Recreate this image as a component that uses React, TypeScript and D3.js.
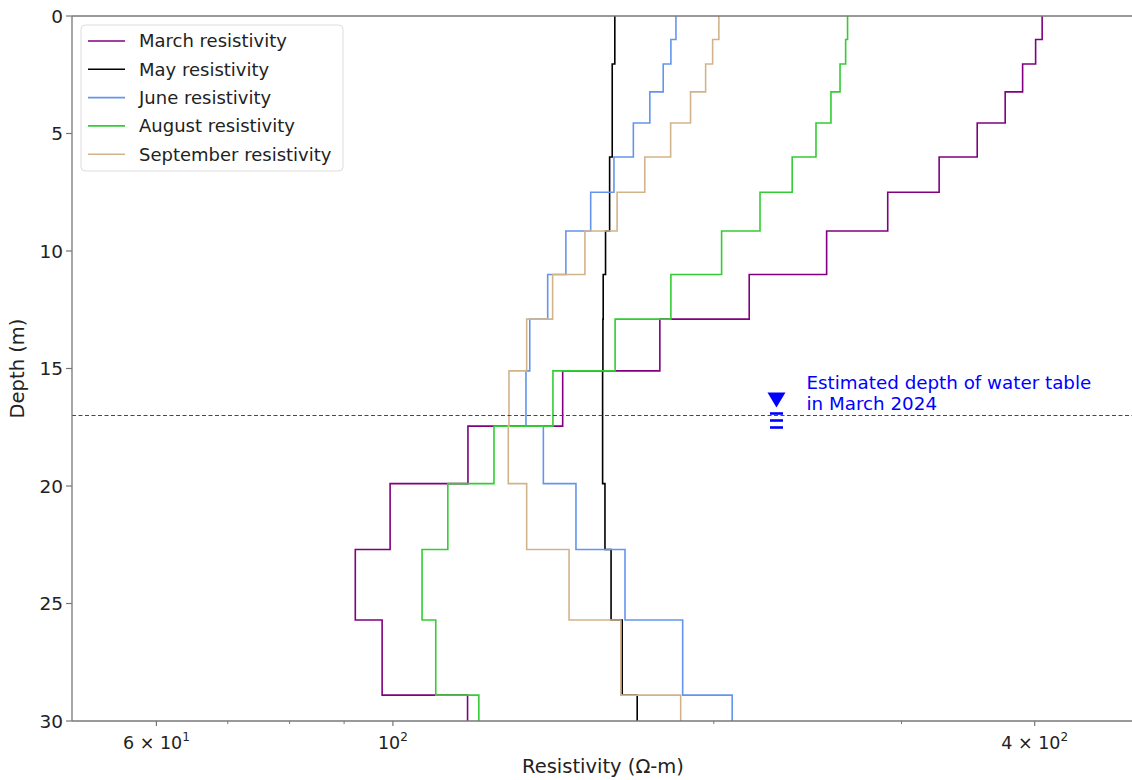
import React from "react";
import * as d3 from "d3";

// layer boundaries (m)
const depthEdges = [0, 1.0, 2.04, 3.23, 4.55, 6.0, 7.5, 9.15, 11.0, 12.9, 15.1, 17.45, 19.9, 22.7, 25.7, 28.9, 30];

// resistivity per layer (ohm-m)
const marchRes = [406.5, 400.8, 389.7, 375.3, 353.3, 325.4, 291.2, 255.2, 215.9, 178.0, 144.3, 117.6, 99.4, 92.2, 97.7, 117.5];
const mayRes = [161.5, 161.5, 160.6, 160.6, 160.6, 159.7, 159.7, 158.3, 157.5, 157.4, 157.3, 157.3, 158.1, 160.2, 164.1, 169.5];
const juneRes = [184.3, 182.3, 179.3, 174.2, 168.1, 161.2, 153.3, 145.3, 139.7, 134.4, 133.3, 138.4, 148.5, 165.1, 187.0, 208.1];
const augustRes = [267.0, 265.9, 262.7, 257.6, 249.4, 236.9, 221.0, 203.4, 182.3, 161.6, 141.3, 124.4, 112.6, 106.5, 109.7, 120.4];
const septemberRes = [202.2, 199.5, 196.5, 190.2, 182.2, 172.3, 162.3, 151.4, 141.2, 133.5, 128.5, 128.3, 133.5, 146.3, 163.6, 186.2];

const seriesNames = ["March resistivity", "May resistivity", "June resistivity", "August resistivity", "September resistivity"];
const seriesColors = ["#800080", "#000000", "#6495ED", "#32CD32", "#D2B48C"];
const seriesValues = [marchRes, mayRes, juneRes, augustRes, septemberRes];

const depthTicks = [0, 5, 10, 15, 20, 25, 30];
const majorTicks = [60, 100, 400];
const majorTickMantissa = ["6", "", "4"];
const majorTickExp = ["1", "2", "2"];
const minorTicks = [70, 80, 90, 200, 300];

const waterTableDepth = 17;
const waterMarkerRes = 229;
const noteLines = ["Estimated depth of water table", "in March 2024"];

const W = 1132;
const H = 780;
const left = 72;
const top = 16;
const bottom = 721;

const font = "DejaVu Sans, sans-serif";

export default function App() {
  const x = d3.scaleLog().domain([50, 500]).range([left, 1138]);
  const y = d3.scaleLinear().domain([0, 30]).range([top, bottom]);

  const line = d3
    .line<[number, number]>()
    .x((d) => x(d[0]))
    .y((d) => y(d[1]));

  const stepPoints = (vals: number[]) => {
    const pts: [number, number][] = [];
    vals.forEach((v, i) => {
      pts.push([v, depthEdges[i]]);
      pts.push([v, depthEdges[i + 1]]);
    });
    return pts;
  };

  const mx = x(waterMarkerRes);
  const wy = y(waterTableDepth);

  return (
    <svg
      width={W}
      height={H}
      style={{ position: "absolute", left: 0, top: 0, background: "#fff" }}
      fontFamily={font}
    >
      <defs>
        <clipPath id="plot">
          <rect x={left} y={top} width={W - left} height={bottom - top} />
        </clipPath>
      </defs>

      {/* series */}
      <g clipPath="url(#plot)">
        {seriesValues.map((vals, i) => (
          <path
            key={seriesNames[i]}
            d={line(stepPoints(vals)) || ""}
            fill="none"
            stroke={seriesColors[i]}
            strokeWidth={1.6}
          />
        ))}
        <line
          x1={left}
          x2={W}
          y1={wy}
          y2={wy}
          stroke="#3030ff"
          strokeWidth={1.2}
          strokeDasharray="4,2.5"
        />
      </g>

      {/* water table marker */}
      <path
        d={`M${mx - 9},${wy - 23} L${mx + 9},${wy - 23} L${mx},${wy - 8} Z`}
        fill="#0000ff"
      />
      {[-2, 5, 12].map((dy, i) => (
        <line
          key={i}
          x1={mx - 6.5}
          x2={mx + 6.5}
          y1={wy + dy}
          y2={wy + dy}
          stroke="#0000ff"
          strokeWidth={2.6}
        />
      ))}
      <text x={mx + 30} y={wy - 27} fontSize={18.3} fill="#0000ff">
        {noteLines[0]}
      </text>
      <text x={mx + 30} y={wy - 6} fontSize={18.3} fill="#0000ff">
        {noteLines[1]}
      </text>

      {/* spines */}
      <line x1={left} x2={left} y1={top} y2={bottom} stroke="#777" strokeWidth={1.3} />
      <line x1={left} x2={W} y1={top} y2={top} stroke="#777" strokeWidth={1.3} />
      <line x1={left} x2={W} y1={bottom} y2={bottom} stroke="#777" strokeWidth={1.3} />

      {/* y axis */}
      {depthTicks.map((t) => (
        <g key={t}>
          <line x1={left - 6} x2={left} y1={y(t)} y2={y(t)} stroke="#777" strokeWidth={1.2} />
          <text x={left - 9} y={y(t)} dy="0.36em" textAnchor="end" fontSize={18.5} fill="#222">
            {t}
          </text>
        </g>
      ))}
      <text
        transform={`translate(24,${(top + bottom) / 2}) rotate(-90)`}
        textAnchor="middle"
        fontSize={19.5}
        fill="#222"
      >
        Depth (m)
      </text>

      {/* x axis */}
      {minorTicks.map((t) => (
        <line key={t} x1={x(t)} x2={x(t)} y1={bottom} y2={bottom + 3} stroke="#777" strokeWidth={1} />
      ))}
      {majorTicks.map((t, i) => (
        <g key={t}>
          <line x1={x(t)} x2={x(t)} y1={bottom} y2={bottom + 5} stroke="#777" strokeWidth={1.2} />
          <text x={x(t)} y={bottom + 28} textAnchor="middle" fontSize={17.5} fill="#222">
            {majorTickMantissa[i] ? `${majorTickMantissa[i]} × 10` : "10"}
            <tspan dy={-8} fontSize={12}>
              {majorTickExp[i]}
            </tspan>
          </text>
        </g>
      ))}
      <text x={603} y={773} textAnchor="middle" fontSize={19.5} fill="#222">
        Resistivity (Ω-m)
      </text>

      {/* legend */}
      <rect x={81} y={25} width={262} height={146} rx={4} fill="#fff" fillOpacity={0.85} stroke="#ddd" />
      {seriesNames.map((name, i) => (
        <g key={name} transform={`translate(88,${41 + i * 28.3})`}>
          <line x1={0} x2={37} y1={0} y2={0} stroke={seriesColors[i]} strokeWidth={1.6} />
          <text x={51} y={0} dy="0.36em" fontSize={18} fill="#222">
            {name}
          </text>
        </g>
      ))}
    </svg>
  );
}
